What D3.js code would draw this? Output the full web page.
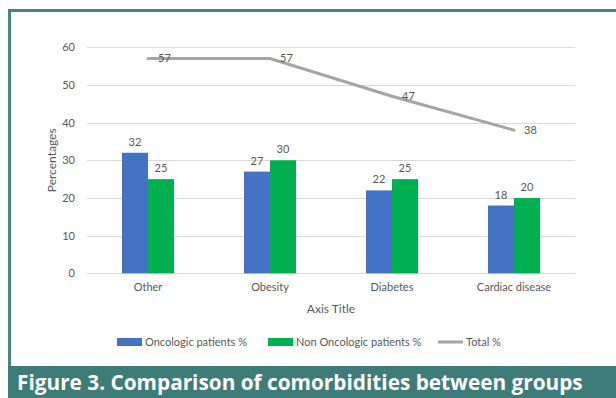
<!DOCTYPE html>
<html>
<head>
<meta charset="utf-8">
<script src="https://cdn.jsdelivr.net/npm/d3@7/dist/d3.min.js"></script>
<style>
  html, body { margin: 0; padding: 0; background: #fff; }
  svg { display: block; }
  text { font-family: Lato, "Open Sans", sans-serif; }
</style>
</head>
<body>
<svg id="chart" width="616" height="398"></svg>
<script>
// Comorbidity shares by group
const categories = ["Other", "Obesity", "Diabetes", "Cardiac disease"];
const oncologic = [32, 27, 22, 18];
const nonOncologic = [25, 30, 25, 20];
const total = [57, 57, 47, 38];
const yTicks = [0, 10, 20, 30, 40, 50, 60];
const seriesNames = ["Oncologic patients %", "Non Oncologic patients %", "Total %"];
const captionText = "Figure 3. Comparison of comorbidities between groups";

const colors = { onc: "#4472C4", non: "#00B050", total: "#A5A5A5", text: "#595959", grid: "#D9D9D9", frame: "#4A8583" };

const svg = d3.select("#chart");

// Frame around the figure and caption bar
svg.append("rect").attr("x", 9.5).attr("y", 10.5).attr("width", 620).attr("height", 380)
  .attr("fill", "none").attr("stroke", colors.frame).attr("stroke-width", 3);
svg.append("rect").attr("x", 8).attr("y", 366).attr("width", 608).attr("height", 32)
  .attr("fill", "#3E7C7A");
const cap = svg.append("text").attr("x", 17).attr("y", 390)
  .attr("fill", "#fff").attr("font-weight", 700)
  .style("font-family", "'Open Sans', sans-serif").attr("font-size", 20)
  .text(captionText);
const capW = cap.node().getComputedTextLength();
cap.attr("font-size", 20 * 566 / capW);

// Plot area
const plot = { left: 87, right: 575, top: 47.3, bottom: 273.3 };

const x = d3.scaleBand().domain(categories).range([plot.left, plot.right]);
const y = d3.scaleLinear().domain([0, 60]).range([plot.bottom, plot.top]);
const barW = 26;

// Grid lines
svg.append("g").selectAll("line").data(yTicks).join("line")
  .attr("x1", plot.left).attr("x2", plot.right)
  .attr("y1", d => Math.round(y(d)) + 0.5).attr("y2", d => Math.round(y(d)) + 0.5)
  .attr("stroke", colors.grid).attr("stroke-width", 1);

// Y axis tick labels
const yAxis = d3.axisLeft(y).tickValues(yTicks).tickSize(0).tickPadding(12);
const gy = svg.append("g").attr("transform", `translate(${plot.left},0)`).call(yAxis);
gy.select(".domain").remove();
gy.selectAll("text").attr("fill", colors.text).attr("font-size", 11)
  .style("font-family", "Lato, sans-serif");

// X axis category labels
const xAxis = d3.axisBottom(x).tickSize(0).tickPadding(10);
const gx = svg.append("g").attr("transform", `translate(0,${plot.bottom})`).call(xAxis);
gx.select(".domain").remove();
gx.selectAll("text").attr("fill", colors.text).attr("font-size", 11)
  .style("font-family", "Lato, sans-serif");

// Bars
const cx = c => x(c) + x.bandwidth() / 2;
function drawBars(values, color, offset) {
  const g = svg.append("g");
  g.selectAll("rect").data(categories).join("rect")
    .attr("x", c => cx(c) + offset)
    .attr("y", (c, i) => y(values[i]))
    .attr("width", barW)
    .attr("height", (c, i) => y(0) - y(values[i]))
    .attr("fill", color);
  g.selectAll("text").data(categories).join("text")
    .attr("x", c => cx(c) + offset + barW / 2)
    .attr("y", (c, i) => y(values[i]) - 7)
    .attr("text-anchor", "middle").attr("font-size", 11).attr("fill", colors.text)
    .text((c, i) => values[i]);
}
drawBars(oncologic, colors.onc, -barW);
drawBars(nonOncologic, colors.non, 0);

// Total line
const line = d3.line().x(c => cx(c)).y((c, i) => y(total[i]));
svg.append("path").datum(categories).attr("d", line)
  .attr("fill", "none").attr("stroke", colors.total).attr("stroke-width", 3)
  .attr("stroke-linecap", "round");
svg.append("g").selectAll("text").data(categories).join("text")
  .attr("x", c => cx(c) + 10)
  .attr("y", (c, i) => y(total[i]))
  .attr("dy", "0.35em").attr("font-size", 11).attr("fill", colors.text)
  .text((c, i) => total[i]);

// Axis titles
svg.append("text").attr("transform", `translate(56,${(plot.top + plot.bottom) / 2}) rotate(-90)`)
  .attr("text-anchor", "middle").attr("font-size", 12).attr("fill", colors.text)
  .text("Percentages");
svg.append("text").attr("x", (plot.left + plot.right) / 2).attr("y", 313)
  .attr("text-anchor", "middle").attr("font-size", 12).attr("fill", colors.text)
  .text("Axis Title");

// Legend
const legend = svg.append("g");
const legendItems = [
  { name: seriesNames[0], color: colors.onc, type: "rect", x: 117 },
  { name: seriesNames[1], color: colors.non, type: "rect", x: 268 },
  { name: seriesNames[2], color: colors.total, type: "line", x: 438 }
];
legendItems.forEach(it => {
  if (it.type === "rect") {
    legend.append("rect").attr("x", it.x).attr("y", 338).attr("width", 25).attr("height", 8).attr("fill", it.color);
  } else {
    legend.append("line").attr("x1", it.x).attr("x2", it.x + 25).attr("y1", 342).attr("y2", 342)
      .attr("stroke", it.color).attr("stroke-width", 3);
  }
  legend.append("text").attr("x", it.x + 28).attr("y", 342).attr("dy", "0.35em")
    .attr("font-size", 11).attr("fill", colors.text).text(it.name);
});
</script>
</body>
</html>
